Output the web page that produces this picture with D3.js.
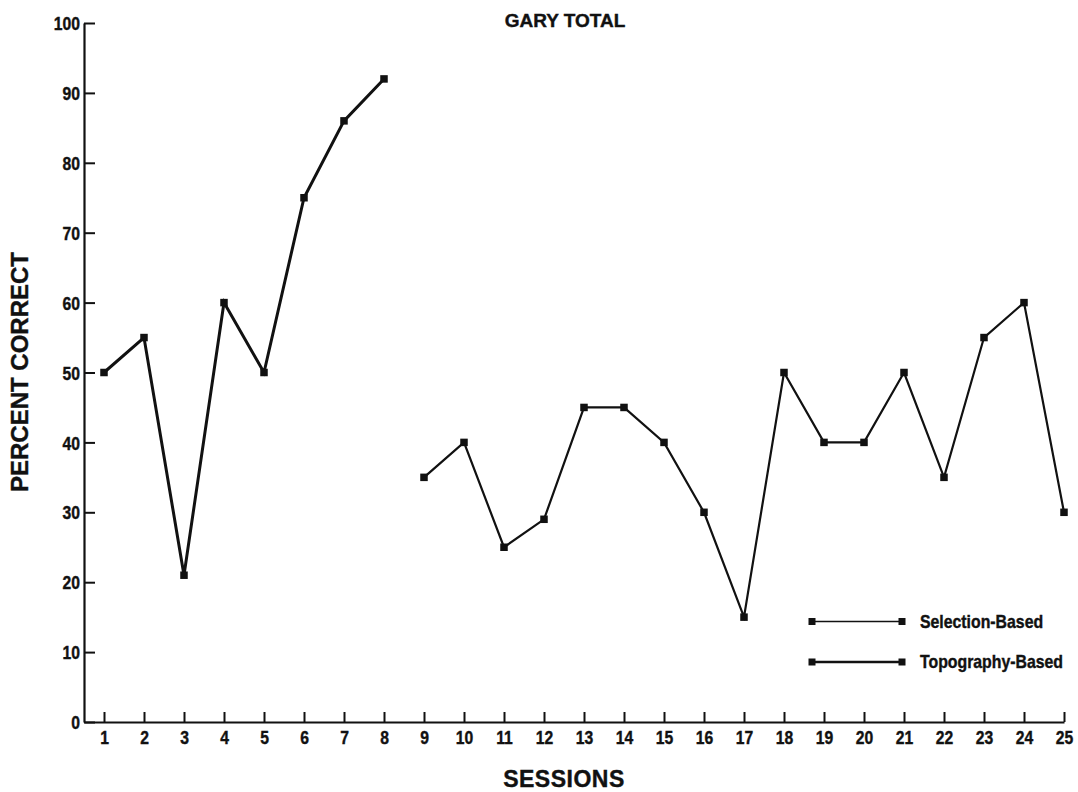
<!DOCTYPE html>
<html>
<head>
<meta charset="utf-8">
<script src="https://cdn.jsdelivr.net/npm/d3@7"></script>
<style>
  body { margin: 0; background: #fff; }
  text { font-family: "Liberation Sans", Arial, sans-serif; font-weight: bold; fill: #111; stroke: #111; stroke-width: 0.4px; }
</style>
</head>
<body>
<div id="chart-area"></div>
<script>

// data
let sessions = d3.range(1, 26);
let topoSessions = [1, 2, 3, 4, 5, 6, 7, 8];
let topoValues = [50, 55, 21, 60, 50, 75, 86, 92];
let selSessions = [9, 10, 11, 12, 13, 14, 15, 16, 17, 18, 19, 20, 21, 22, 23, 24, 25];
let selValues = [35, 40, 25, 29, 45, 45, 40, 30, 15, 50, 40, 40, 50, 35, 55, 60, 30];
let yTicks = [0, 10, 20, 30, 40, 50, 60, 70, 80, 90, 100];
let legendLabels = ["Selection-Based", "Topography-Based"];

// SVG drawing area
let width = 1078, height = 792;

let svg = d3.select("#chart-area").append("svg")
	.attr("width", width)
	.attr("height", height);

// scales
let x = d3.scaleLinear()
	.domain([0.5, 25])
	.range([84, 1064]);

let y = d3.scaleLinear()
	.domain([0, 100])
	.range([722, 23]);

// condensed look for the tick numbers
let squeeze = 0.85;

// axes
let xAxis = svg.append("g")
	.attr("transform", "translate(0," + y(0) + ")")
	.call(d3.axisBottom(x).tickValues(sessions).tickSize(-10).tickPadding(9).tickSizeOuter(0));

let yAxis = svg.append("g")
	.attr("transform", "translate(" + x(0.5) + ",0)")
	.call(d3.axisLeft(y).tickValues(yTicks).tickSize(-11).tickSizeOuter(0));

svg.selectAll(".domain").attr("stroke", "#111").attr("stroke-width", 2.2);
svg.selectAll(".tick line").attr("stroke", "#111").attr("stroke-width", 2);
svg.selectAll(".tick text")
	.attr("font-size", 18.5)
	.attr("fill", "#111")
	.attr("font-family", null);

xAxis.selectAll(".tick text")
	.attr("transform", "scale(" + squeeze + ",1)");

yAxis.selectAll(".tick text")
	.attr("x", 0)
	.attr("dy", "0.36em")
	.attr("transform", "translate(-4,0) scale(" + squeeze + ",1)");

// lines
let line = d3.line()
	.x(d => x(d[0]))
	.y(d => y(d[1]));

let topo = topoSessions.map((s, i) => [s, topoValues[i]]);
let sel = selSessions.map((s, i) => [s, selValues[i]]);

svg.append("path")
	.datum(topo)
	.attr("fill", "none")
	.attr("stroke", "#111")
	.attr("stroke-width", 3)
	.attr("d", line);

svg.append("path")
	.datum(sel)
	.attr("fill", "none")
	.attr("stroke", "#111")
	.attr("stroke-width", 2.2)
	.attr("d", line);

// square markers
let sq = 7.5;
svg.selectAll(".dot")
	.data(topo.concat(sel))
	.enter()
	.append("rect")
	.attr("class", "dot")
	.attr("x", d => x(d[0]) - sq / 2)
	.attr("y", d => y(d[1]) - sq / 2)
	.attr("width", sq)
	.attr("height", sq)
	.attr("fill", "#111");

// legend
let legend = svg.append("g");
legendLabels.forEach(function(label, i) {
	let ly = 621.5 + i * 40.5;
	legend.append("line")
		.attr("x1", 812).attr("x2", 902)
		.attr("y1", ly).attr("y2", ly)
		.attr("stroke", "#111")
		.attr("stroke-width", i == 0 ? 1.6 : 2.6);
	[812, 902].forEach(function(cx) {
		legend.append("rect")
			.attr("x", cx - 3.5).attr("y", ly - 3.5)
			.attr("width", 7).attr("height", 7)
			.attr("fill", "#111");
	});
	legend.append("text")
		.attr("transform", "translate(920," + ly + ") scale(0.88,1)")
		.attr("dy", "0.36em")
		.attr("font-size", 18)
		.text(label);
});

// titles
svg.append("text")
	.attr("x", 565)
	.attr("y", 27)
	.attr("text-anchor", "middle")
	.attr("font-size", 19)
	.text("GARY TOTAL");

svg.append("text")
	.attr("x", 564)
	.attr("y", 787)
	.attr("text-anchor", "middle")
	.attr("font-size", 23)
	.attr("letter-spacing", 0.5)
	.text("SESSIONS");

svg.append("text")
	.attr("transform", "translate(28,372) rotate(-90)")
	.attr("text-anchor", "middle")
	.attr("font-size", 24)
	.text("PERCENT CORRECT");

</script>
</body>
</html>
